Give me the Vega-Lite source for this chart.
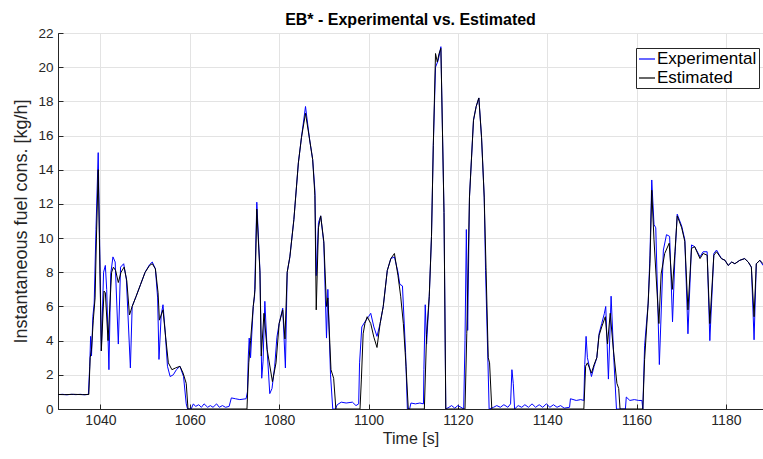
{
"$schema":"https://vega.github.io/schema/vega-lite/v6.json",
"width":705,"height":376,
"autosize":{"type":"none"},
"padding":{"left":58,"top":33,"right":0,"bottom":50},
"background":"white",
"title":{"text":"EB* - Experimental vs. Estimated","font":"Liberation Sans","fontSize":16,"fontWeight":"bold","color":"#000000","offset":1,"dy":3},
"config":{"view":{"stroke":"#262626","strokeWidth":1},
"axis":{"labelFont":"Liberation Sans","titleFont":"Liberation Sans","labelFontSize":14,"titleFontSize":18,"titleFontWeight":"normal","labelColor":"#262626","titleColor":"#262626","domainColor":"#262626","tickColor":"#262626","gridColor":"#e3e3e3","gridWidth":1,"labelOverlap":false}},
"datasets":{
"exp":[{"t":1030.5,"v":0.84},{"t":1031.5,"v":0.86},{"t":1032.5,"v":0.83},{"t":1033.5,"v":0.86},{"t":1034.5,"v":0.84},{"t":1035.5,"v":0.86},{"t":1036.5,"v":0.83},{"t":1037.3,"v":0.86},{"t":1037.6,"v":2.5},{"t":1037.8,"v":4.25},{"t":1038.0,"v":3.1},{"t":1038.3,"v":5.4},{"t":1038.6,"v":6.2},{"t":1039.0,"v":10.5},{"t":1039.5,"v":15.0},{"t":1040.2,"v":3.4},{"t":1040.7,"v":8.0},{"t":1041.1,"v":8.4},{"t":1041.4,"v":7.0},{"t":1041.9,"v":2.3},{"t":1042.3,"v":7.9},{"t":1042.8,"v":8.9},{"t":1043.3,"v":8.6},{"t":1044.0,"v":3.8},{"t":1044.5,"v":8.3},{"t":1045.2,"v":8.5},{"t":1045.8,"v":7.6},{"t":1046.7,"v":2.4},{"t":1047.1,"v":6.0},{"t":1048.0,"v":6.6},{"t":1049.0,"v":7.3},{"t":1050.0,"v":8.0},{"t":1051.0,"v":8.45},{"t":1051.6,"v":8.6},{"t":1052.3,"v":8.2},{"t":1052.8,"v":6.5},{"t":1053.1,"v":2.9},{"t":1053.6,"v":5.5},{"t":1054.0,"v":6.1},{"t":1054.5,"v":4.5},{"t":1055.0,"v":2.5},{"t":1055.6,"v":1.9},{"t":1056.3,"v":2.0},{"t":1057.0,"v":2.3},{"t":1057.8,"v":2.5},{"t":1058.6,"v":1.9},{"t":1059.2,"v":0.3},{"t":1059.5,"v":0},{"t":1060.3,"v":0},{"t":1060.8,"v":0.3},{"t":1061.3,"v":0.15},{"t":1062.0,"v":0.25},{"t":1062.6,"v":0.1},{"t":1063.2,"v":0.3},{"t":1064.0,"v":0.1},{"t":1064.6,"v":0.2},{"t":1065.2,"v":0.1},{"t":1066.0,"v":0.3},{"t":1066.6,"v":0.1},{"t":1067.3,"v":0.2},{"t":1068.0,"v":0.1},{"t":1068.8,"v":0.15},{"t":1069.3,"v":0.65},{"t":1070.2,"v":0.6},{"t":1071.2,"v":0.55},{"t":1072.6,"v":0.6},{"t":1072.9,"v":1.0},{"t":1073.1,"v":3.1},{"t":1073.3,"v":4.15},{"t":1073.6,"v":3.0},{"t":1074.2,"v":6.0},{"t":1074.5,"v":6.6},{"t":1075.0,"v":12.1},{"t":1075.7,"v":8.1},{"t":1076.1,"v":1.8},{"t":1076.4,"v":2.8},{"t":1076.8,"v":6.3},{"t":1077.3,"v":3.5},{"t":1077.9,"v":0.9},{"t":1078.4,"v":1.2},{"t":1079.0,"v":2.5},{"t":1079.5,"v":4.2},{"t":1080.0,"v":5.0},{"t":1080.8,"v":5.9},{"t":1081.4,"v":2.4},{"t":1081.8,"v":8.0},{"t":1082.4,"v":8.9},{"t":1083.3,"v":11.1},{"t":1084.3,"v":14.4},{"t":1085.0,"v":15.9},{"t":1085.9,"v":17.7},{"t":1086.8,"v":15.8},{"t":1087.5,"v":14.6},{"t":1088.0,"v":12.8},{"t":1088.3,"v":7.8},{"t":1088.8,"v":10.9},{"t":1089.3,"v":11.3},{"t":1090.0,"v":9.7},{"t":1090.6,"v":4.15},{"t":1090.9,"v":7.0},{"t":1091.5,"v":2.0},{"t":1092.0,"v":0},{"t":1092.6,"v":0},{"t":1093.0,"v":0.25},{"t":1093.9,"v":0.4},{"t":1095.0,"v":0.35},{"t":1096.4,"v":0.4},{"t":1097.2,"v":0.2},{"t":1097.8,"v":0.3},{"t":1098.0,"v":2.7},{"t":1098.5,"v":4.8},{"t":1099.2,"v":5.1},{"t":1100.0,"v":5.4},{"t":1100.5,"v":5.6},{"t":1101.2,"v":4.8},{"t":1101.9,"v":4.25},{"t":1102.6,"v":5.0},{"t":1103.3,"v":6.0},{"t":1104.2,"v":8.1},{"t":1105.0,"v":8.8},{"t":1105.8,"v":8.9},{"t":1106.6,"v":8.0},{"t":1107.0,"v":7.3},{"t":1107.6,"v":7.2},{"t":1108.3,"v":3.3},{"t":1108.7,"v":0},{"t":1109.2,"v":0},{"t":1109.5,"v":0.35},{"t":1110.5,"v":0.3},{"t":1111.5,"v":0.35},{"t":1112.3,"v":0.3},{"t":1112.4,"v":2.3},{"t":1112.7,"v":6.1},{"t":1113.0,"v":3.8},{"t":1113.6,"v":6.6},{"t":1114.1,"v":10.1},{"t":1114.5,"v":15.4},{"t":1115.0,"v":20.0},{"t":1115.6,"v":20.4},{"t":1116.2,"v":21.2},{"t":1116.9,"v":11.5},{"t":1117.3,"v":0},{"t":1118.0,"v":0.1},{"t":1118.6,"v":0.2},{"t":1119.3,"v":0.05},{"t":1120.0,"v":0.2},{"t":1120.7,"v":0.1},{"t":1121.3,"v":0},{"t":1121.6,"v":4.0},{"t":1121.9,"v":10.5},{"t":1122.2,"v":4.6},{"t":1122.6,"v":12.4},{"t":1123.5,"v":16.9},{"t":1124.1,"v":17.7},{"t":1124.7,"v":18.2},{"t":1125.3,"v":15.9},{"t":1125.9,"v":12.4},{"t":1126.2,"v":8.1},{"t":1126.7,"v":3.1},{"t":1127.0,"v":0},{"t":1128.0,"v":0.1},{"t":1128.7,"v":0.2},{"t":1129.5,"v":0.1},{"t":1130.3,"v":0.25},{"t":1131.2,"v":0.1},{"t":1131.8,"v":0.3},{"t":1132.1,"v":2.3},{"t":1132.4,"v":1.5},{"t":1132.7,"v":0},{"t":1133.5,"v":0.2},{"t":1134.3,"v":0.1},{"t":1135.0,"v":0.25},{"t":1135.8,"v":0.1},{"t":1136.6,"v":0.3},{"t":1137.4,"v":0.1},{"t":1138.2,"v":0.25},{"t":1139.0,"v":0.1},{"t":1139.8,"v":0.3},{"t":1140.6,"v":0.1},{"t":1141.4,"v":0.25},{"t":1142.2,"v":0.1},{"t":1143.0,"v":0.2},{"t":1143.8,"v":0.05},{"t":1145.0,"v":0.1},{"t":1145.2,"v":0.6},{"t":1146.5,"v":0.5},{"t":1147.5,"v":0.55},{"t":1148.2,"v":0.5},{"t":1148.4,"v":2.6},{"t":1148.7,"v":4.25},{"t":1149.0,"v":3.0},{"t":1149.9,"v":1.9},{"t":1150.5,"v":2.5},{"t":1151.1,"v":3.0},{"t":1151.6,"v":4.4},{"t":1152.2,"v":5.0},{"t":1152.8,"v":5.6},{"t":1153.1,"v":6.0},{"t":1153.7,"v":1.75},{"t":1154.3,"v":6.6},{"t":1154.9,"v":3.0},{"t":1155.5,"v":0},{"t":1157.5,"v":0},{"t":1157.7,"v":0.7},{"t":1158.5,"v":0.5},{"t":1159.5,"v":0.55},{"t":1160.5,"v":0.5},{"t":1161.2,"v":0.5},{"t":1161.4,"v":0},{"t":1161.8,"v":3.7},{"t":1162.6,"v":6.2},{"t":1163.0,"v":9.0},{"t":1163.4,"v":13.4},{"t":1163.9,"v":10.8},{"t":1164.3,"v":10.6},{"t":1165.1,"v":2.6},{"t":1166.0,"v":9.3},{"t":1166.7,"v":10.2},{"t":1167.4,"v":10.1},{"t":1168.05,"v":5.1},{"t":1168.6,"v":9.0},{"t":1169.1,"v":11.4},{"t":1170.1,"v":10.7},{"t":1170.8,"v":9.9},{"t":1171.5,"v":4.4},{"t":1172.3,"v":9.6},{"t":1173.0,"v":9.5},{"t":1174.2,"v":8.9},{"t":1174.9,"v":9.2},{"t":1175.8,"v":9.2},{"t":1176.4,"v":4.0},{"t":1177.3,"v":9.1},{"t":1177.9,"v":9.3},{"t":1179.0,"v":8.8},{"t":1179.8,"v":8.7},{"t":1180.5,"v":8.4},{"t":1181.3,"v":8.6},{"t":1182.0,"v":8.5},{"t":1183.1,"v":8.7},{"t":1184.2,"v":8.8},{"t":1185.0,"v":8.6},{"t":1185.7,"v":8.3},{"t":1186.3,"v":4.05},{"t":1186.8,"v":8.5},{"t":1187.6,"v":8.7},{"t":1188.3,"v":8.4}],
"est":[{"t":1030.5,"v":0.85},{"t":1032,"v":0.84},{"t":1034,"v":0.86},{"t":1036,"v":0.84},{"t":1037.4,"v":0.85},{"t":1037.7,"v":3.0},{"t":1038.0,"v":3.5},{"t":1038.4,"v":5.2},{"t":1038.8,"v":6.5},{"t":1039.1,"v":10.0},{"t":1039.5,"v":14.0},{"t":1040.2,"v":3.4},{"t":1040.8,"v":6.9},{"t":1041.1,"v":6.8},{"t":1041.7,"v":4.0},{"t":1042.5,"v":8.0},{"t":1042.9,"v":8.3},{"t":1043.4,"v":8.1},{"t":1044.0,"v":7.4},{"t":1044.6,"v":8.0},{"t":1045.3,"v":8.3},{"t":1045.9,"v":7.5},{"t":1046.5,"v":5.5},{"t":1047.1,"v":6.0},{"t":1048.0,"v":6.6},{"t":1049.0,"v":7.3},{"t":1050.0,"v":8.0},{"t":1051.0,"v":8.4},{"t":1051.6,"v":8.5},{"t":1052.3,"v":8.2},{"t":1052.9,"v":6.8},{"t":1053.2,"v":5.2},{"t":1054.0,"v":5.8},{"t":1054.6,"v":4.2},{"t":1055.2,"v":2.7},{"t":1056.0,"v":2.3},{"t":1056.8,"v":2.4},{"t":1057.8,"v":2.5},{"t":1058.5,"v":2.1},{"t":1059.2,"v":1.5},{"t":1059.6,"v":0},{"t":1072.8,"v":0},{"t":1073.2,"v":2.7},{"t":1073.6,"v":4.0},{"t":1074.2,"v":6.0},{"t":1074.6,"v":7.0},{"t":1075.0,"v":11.7},{"t":1075.7,"v":8.0},{"t":1076.0,"v":3.1},{"t":1076.6,"v":5.6},{"t":1077.3,"v":3.5},{"t":1078.5,"v":1.6},{"t":1079.3,"v":2.7},{"t":1080.0,"v":5.0},{"t":1080.8,"v":5.8},{"t":1081.3,"v":4.1},{"t":1081.8,"v":8.0},{"t":1082.4,"v":8.9},{"t":1083.3,"v":11.1},{"t":1084.3,"v":14.4},{"t":1085.0,"v":15.9},{"t":1085.9,"v":17.3},{"t":1086.8,"v":15.8},{"t":1087.5,"v":14.6},{"t":1088.0,"v":12.5},{"t":1088.3,"v":5.8},{"t":1088.8,"v":10.6},{"t":1089.3,"v":11.3},{"t":1090.0,"v":9.8},{"t":1090.6,"v":6.0},{"t":1090.9,"v":6.5},{"t":1091.6,"v":2.3},{"t":1092.2,"v":1.8},{"t":1092.7,"v":0},{"t":1098.1,"v":0},{"t":1098.4,"v":1.7},{"t":1098.8,"v":4.4},{"t":1099.2,"v":5.0},{"t":1099.7,"v":5.4},{"t":1100.5,"v":5.0},{"t":1101.2,"v":4.2},{"t":1101.9,"v":3.6},{"t":1102.6,"v":5.0},{"t":1103.3,"v":6.0},{"t":1104.2,"v":8.1},{"t":1105.0,"v":8.8},{"t":1105.8,"v":9.1},{"t":1106.6,"v":7.8},{"t":1107.2,"v":6.6},{"t":1107.8,"v":5.0},{"t":1108.4,"v":2.5},{"t":1108.9,"v":0},{"t":1112.5,"v":0},{"t":1113.0,"v":4.35},{"t":1113.6,"v":6.6},{"t":1114.1,"v":10.1},{"t":1114.5,"v":15.4},{"t":1115.0,"v":20.8},{"t":1115.4,"v":20.3},{"t":1115.8,"v":20.8},{"t":1116.2,"v":21.1},{"t":1116.9,"v":11.5},{"t":1117.3,"v":0},{"t":1121.6,"v":0},{"t":1122.0,"v":4.4},{"t":1122.6,"v":12.4},{"t":1123.5,"v":16.9},{"t":1124.1,"v":17.7},{"t":1124.7,"v":18.2},{"t":1125.3,"v":15.9},{"t":1125.9,"v":12.4},{"t":1126.3,"v":8.3},{"t":1126.8,"v":3.0},{"t":1127.1,"v":2.7},{"t":1127.6,"v":0},{"t":1148.2,"v":0},{"t":1148.6,"v":2.5},{"t":1149.0,"v":2.7},{"t":1149.9,"v":2.1},{"t":1150.5,"v":2.6},{"t":1151.1,"v":3.0},{"t":1151.6,"v":4.3},{"t":1152.2,"v":4.8},{"t":1153.0,"v":5.4},{"t":1153.5,"v":3.8},{"t":1154.1,"v":5.6},{"t":1154.8,"v":3.5},{"t":1155.6,"v":1.5},{"t":1156.0,"v":1.2},{"t":1156.3,"v":0},{"t":1161.4,"v":0},{"t":1161.8,"v":2.9},{"t":1162.6,"v":6.2},{"t":1163.0,"v":8.5},{"t":1163.4,"v":12.8},{"t":1163.9,"v":9.9},{"t":1165.0,"v":5.0},{"t":1165.5,"v":7.9},{"t":1166.3,"v":9.1},{"t":1167.3,"v":9.7},{"t":1168.0,"v":7.0},{"t":1168.6,"v":9.2},{"t":1169.1,"v":11.3},{"t":1170.1,"v":10.6},{"t":1170.8,"v":9.8},{"t":1171.5,"v":5.8},{"t":1172.3,"v":9.4},{"t":1173.0,"v":9.5},{"t":1174.2,"v":8.8},{"t":1174.9,"v":9.1},{"t":1175.8,"v":9.0},{"t":1176.4,"v":5.0},{"t":1177.3,"v":9.0},{"t":1177.9,"v":9.2},{"t":1179.0,"v":8.8},{"t":1179.8,"v":8.7},{"t":1180.5,"v":8.4},{"t":1181.3,"v":8.6},{"t":1182.0,"v":8.5},{"t":1183.1,"v":8.7},{"t":1184.2,"v":8.8},{"t":1185.0,"v":8.6},{"t":1185.7,"v":8.3},{"t":1186.3,"v":5.4},{"t":1186.8,"v":8.5},{"t":1187.6,"v":8.7},{"t":1188.3,"v":8.5}]
},
"layer":[
{"data":{"name":"exp"},"mark":{"type":"line","strokeWidth":1,"clip":true,"interpolate":"linear"},
"encoding":{
"x":{"field":"t","type":"quantitative","scale":{"domain":[1030.5,1188.3],"nice":false,"zero":false},
"axis":{"title":"Time [s]","titleFontSize":16,"values":[1040,1060,1080,1100,1120,1140,1160,1180],"format":"d","tickSize":-5,"labelPadding":9,"titlePadding":3,"grid":true,"labelOverlap":false}},
"y":{"field":"v","type":"quantitative","scale":{"domain":[0,22],"nice":false},
"axis":{"title":"Instantaneous fuel cons. [kg/h]","tickCount":11,"format":"d","tickSize":-5,"labelPadding":10,"titlePadding":7,"grid":true,"labelOverlap":false,"labelFontSize":13.5}},
"color":{"datum":"Experimental","type":"nominal","scale":{"domain":["Experimental","Estimated"],"range":["#0000ff","#000000"]},
"legend":{"title":null,"orient":"none","legendX":578,"legendY":15,"symbolType":"stroke","symbolSize":256,"symbolStrokeWidth":1.2,"strokeColor":"#262626","fillColor":"white","padding":2,"labelFont":"Liberation Sans","labelFontSize":17,"labelColor":"#000000","labelOffset":1,"rowPadding":2,"labelLimit":300}}}},
{"data":{"name":"est"},"mark":{"type":"line","strokeWidth":1,"clip":true},
"encoding":{"x":{"field":"t","type":"quantitative"},"y":{"field":"v","type":"quantitative"},"color":{"datum":"Estimated","type":"nominal"}}}
]
}
